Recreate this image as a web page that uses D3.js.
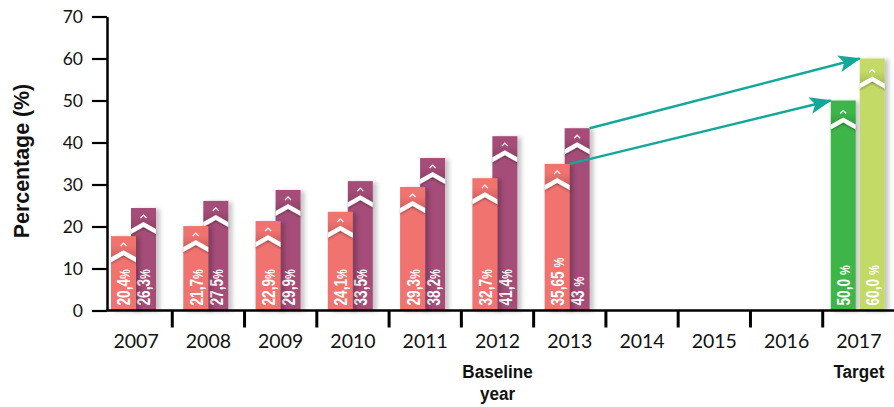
<!DOCTYPE html>
<html><head><meta charset="utf-8">
<script src="https://cdn.jsdelivr.net/npm/d3@7/dist/d3.min.js"></script>
<style>
body{margin:0;background:#fff;}
svg{display:block;}
</style></head><body>
<svg id="chart" width="894" height="407"></svg>
<script>
// ---- data ----
const years = ["2007","2008","2009","2010","2011","2012","2013","2014","2015","2016","2017"];
const actualYears = ["2007","2008","2009","2010","2011","2012","2013"];
const pinkValues = [17.7, 20.1, 21.3, 23.5, 29.4, 31.5, 34.9];
const pinkLabels = ["20,4", "21,7", "22,9", "24,1", "29,3", "32,7", "35,65 "];
const purpleValues = [24.4, 26.1, 28.7, 30.8, 36.3, 41.5, 43.4];
const purpleLabels = ["26,3", "27,5", "29,9", "33,5", "38,2", "41,4", "43 "];
const targetYear = "2017";
const targetValues = [50.0, 60.0];
const targetLabels = ["50,0 ", "60,0 "];
const yTicks = [0, 10, 20, 30, 40, 50, 60, 70];
const yTitle = "Percentage (%)";
const notes = [{year: "2012", lines: ["Baseline", "year"]}, {year: "2017", lines: ["Target"]}];

// ---- styles ----
const C = {pink: "#F0736F", purple: "#A54D78", green: "#3DB54A", lime: "#C3DA66", arrow: "#13A89A"};
const bold = "'Liberation Sans',Arial,sans-serif";
const tickFont = "Lato,'Open Sans',sans-serif";

const svg = d3.select("#chart");
const x = d3.scaleBand().domain(years).range([100, 895]);
const y = d3.scaleLinear().domain([0, 70]).range([310.5, 16.5]);
const bw = 25;

const defs = svg.append("defs");
const f = defs.append("filter").attr("id", "sh").attr("x", "-30%").attr("y", "-10%").attr("width", "180%").attr("height", "130%");
f.append("feDropShadow").attr("dx", 4).attr("dy", 1).attr("stdDeviation", 2.2).attr("flood-color", "#000").attr("flood-opacity", 0.22);
const f2 = defs.append("filter").attr("id", "chsh").attr("x", "-20%").attr("y", "-50%").attr("width", "140%").attr("height", "250%");
f2.append("feDropShadow").attr("dx", 0).attr("dy", 1.5).attr("stdDeviation", 1.2).attr("flood-color", "#000").attr("flood-opacity", 0.3);
const g = defs.append("linearGradient").attr("id", "band").attr("x1", 0).attr("y1", 0).attr("x2", 0).attr("y2", 1);
g.append("stop").attr("offset", "0%").attr("stop-color", "#000").attr("stop-opacity", 0);
g.append("stop").attr("offset", "100%").attr("stop-color", "#000").attr("stop-opacity", 0.14);
defs.append("marker").attr("id", "ah").attr("markerUnits", "userSpaceOnUse")
  .attr("viewBox", "0 -9 22 18").attr("refX", 21).attr("refY", 0)
  .attr("markerWidth", 22).attr("markerHeight", 18).attr("orient", "auto")
  .append("path").attr("d", "M0,-8.5L22,0L0,8.5L5,0Z").attr("fill", C.arrow);

// bars spec built from arrays
const bars = [];
actualYears.forEach((yr, i) => {
  bars.push({x: x(yr) + 31, v: purpleValues[i], label: purpleLabels[i], color: C.purple, off: 0});
  bars.push({x: x(yr) + 11, v: pinkValues[i], label: pinkLabels[i], color: C.pink, off: 0});
});
bars.push({x: x(targetYear) + 8, v: targetValues[0], label: targetLabels[0], color: C.green, off: 3});
bars.push({x: x(targetYear) + 37, v: targetValues[1], label: targetLabels[1], color: C.lime, off: 4});

const bg = svg.append("g");
bars.forEach(b => {
  const t = y(b.v), gg = bg.append("g");
  gg.append("rect").attr("x", b.x).attr("y", t).attr("width", bw).attr("height", y(0) - t)
    .attr("fill", b.color).attr("filter", "url(#sh)");
  const o = b.off, xc = b.x + bw / 2;
  gg.append("rect").attr("x", b.x).attr("y", t + 9 + o).attr("width", bw).attr("height", 12)
    .attr("fill", "url(#band)");
  gg.append("path").attr("filter", "url(#chsh)")
    .attr("d", `M${b.x},${t + 21 + o}L${xc},${t + 14 + o}L${b.x + bw},${t + 21 + o}L${b.x + bw},${t + 26 + o}L${xc},${t + 19 + o}L${b.x},${t + 26 + o}Z`)
    .attr("fill", "#fff");
  gg.append("path").attr("d", `M${xc - 3},${t + 10 + o}L${xc},${t + 7 + o}L${xc + 3},${t + 10 + o}`)
    .attr("fill", "none").attr("stroke", "#fff").attr("stroke-width", 1.2);
  const tx = gg.append("text").attr("transform", `translate(${xc + 0.5},${y(0) - 5}) rotate(-90) scale(0.76,1)`)
    .attr("dy", "0.36em").attr("fill", "#fff").attr("font-family", bold).attr("font-weight", "bold")
    .attr("font-size", 18);
  tx.append("tspan").text(b.label);
  tx.append("tspan").attr("font-size", 14.5).text("%");
});

// arrows
const arrows = [
  {x1: x("2013") + 11 + bw, y1: y(pinkValues[6]), x2: x(targetYear) + 8, y2: y(targetValues[0])},
  {x1: x("2013") + 31 + bw, y1: y(purpleValues[6]), x2: x(targetYear) + 37, y2: y(targetValues[1])}
];
svg.append("g").selectAll("line").data(arrows).join("line")
  .attr("x1", d => d.x1).attr("y1", d => d.y1).attr("x2", d => d.x2).attr("y2", d => d.y2)
  .attr("stroke", C.arrow).attr("stroke-width", 2.4).attr("marker-end", "url(#ah)");

// y axis
const ya = svg.append("g").attr("transform", "translate(107,0)")
  .call(d3.axisLeft(y).tickValues(yTicks).tickSize(15).tickSizeOuter(0).tickPadding(9));
ya.select(".domain").attr("stroke", "#000").attr("stroke-width", 2.5);
ya.selectAll(".tick line").attr("stroke", "#000").attr("stroke-width", 2.2);
ya.selectAll(".tick text").attr("font-family", tickFont).attr("font-size", 17.5).attr("fill", "#111");

// x axis
svg.append("line").attr("x1", 105.8).attr("x2", 894).attr("y1", y(0)).attr("y2", y(0))
  .attr("stroke", "#000").attr("stroke-width", 2.5);
svg.append("g").selectAll("line").data(years.slice(1)).join("line")
  .attr("x1", d => x(d)).attr("x2", d => x(d)).attr("y1", y(0)).attr("y2", y(0) + 17)
  .attr("stroke", "#000").attr("stroke-width", 3);
svg.append("g").selectAll("text").data(years).join("text")
  .attr("x", d => x(d) + x.bandwidth() / 2).attr("y", 348).attr("text-anchor", "middle")
  .attr("font-family", tickFont).attr("font-size", 19.5).attr("fill", "#111").text(d => d);

// notes
notes.forEach(n => {
  n.lines.forEach((l, i) => {
    const cx = x(n.year) + x.bandwidth() / 2;
    svg.append("text").attr("transform", `translate(${cx},${378 + i * 22}) scale(0.9,1)`)
      .attr("text-anchor", "middle").attr("font-family", bold).attr("font-weight", "bold")
      .attr("font-size", 19).attr("fill", "#111").text(l);
  });
});

// y title
svg.append("text").attr("transform", "translate(29,161) rotate(-90) scale(0.95,1)").attr("text-anchor", "middle")
  .attr("font-family", bold).attr("font-weight", "bold").attr("font-size", 22.5).attr("fill", "#111")
  .text(yTitle);
</script>
</body></html>
